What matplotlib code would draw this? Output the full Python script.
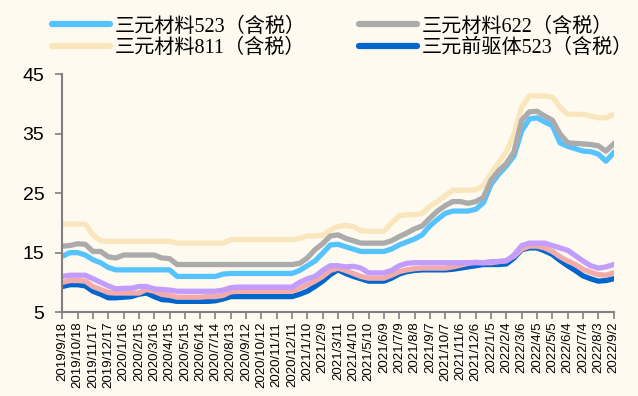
import matplotlib
matplotlib.use('Agg')
import matplotlib.pyplot as plt
import numpy as np
import pandas as pd

plt.rcParams['font.family'] = ['Liberation Serif', 'Noto Sans CJK SC']

# sampled every 15 days starting 2019/9/18
start = '2019-09-18'
n_points = 73

tick_labels = ['2019/9/18', '2019/10/18', '2019/11/17', '2019/12/17', '2020/1/16', '2020/2/15',
               '2020/3/16', '2020/4/15', '2020/5/15', '2020/6/14', '2020/7/14', '2020/8/13',
               '2020/9/12', '2020/10/12', '2020/11/11', '2020/12/11', '2021/1/10', '2021/2/9',
               '2021/3/11', '2021/4/10', '2021/5/10', '2021/6/9', '2021/7/9', '2021/8/8',
               '2021/9/7', '2021/10/7', '2021/11/6', '2021/12/6', '2022/1/5', '2022/2/4',
               '2022/3/6', '2022/4/5', '2022/5/5', '2022/6/4', '2022/7/4', '2022/8/3', '2022/9/2']

ncm523 = [14.4, 15.0, 15.0, 14.6, 13.8, 13.3, 12.5, 12.1, 12.1, 12.1, 12.1, 12.1, 12.1, 12.1, 12.1,
          11.0, 11.0, 11.0, 11.0, 11.0, 11.0, 11.4, 11.5, 11.5, 11.5, 11.5, 11.5, 11.5, 11.5, 11.5,
          11.5, 12.0, 12.8, 13.6, 14.9, 16.3, 16.4, 16.0, 15.6, 15.2, 15.2, 15.2, 15.2, 15.6, 16.3,
          16.8, 17.3, 18.0, 19.5, 20.6, 21.6, 22.0, 22.0, 22.0, 22.3, 23.4, 26.5, 28.2, 29.6, 31.3,
          35.5, 37.5, 37.7, 37.0, 36.4, 33.5, 32.9, 32.5, 32.1, 32.0, 31.6, 30.4, 31.8]
ncm622 = [16.1, 16.2, 16.5, 16.4, 15.2, 15.2, 14.3, 14.1, 14.6, 14.6, 14.6, 14.6, 14.6, 14.1, 14.0,
          13.0, 13.0, 13.0, 13.0, 13.0, 13.0, 13.0, 13.0, 13.0, 13.0, 13.0, 13.0, 13.0, 13.0, 13.0,
          13.0, 13.2, 14.1, 15.5, 16.5, 17.8, 18.0, 17.4, 17.0, 16.6, 16.6, 16.6, 16.6, 17.0, 17.7,
          18.3, 19.0, 19.5, 20.8, 22.0, 22.9, 23.6, 23.6, 23.3, 23.6, 24.3, 27.2, 28.8, 30.0, 32.0,
          37.3, 38.7, 38.8, 38.0, 37.3, 35.0, 33.5, 33.4, 33.3, 33.2, 33.0, 32.1, 33.3]
ncm811 = [19.8, 19.8, 19.8, 19.8, 18.0, 17.0, 16.9, 16.9, 16.9, 16.9, 16.9, 16.9, 16.9, 16.9, 16.9,
          16.6, 16.6, 16.6, 16.6, 16.6, 16.6, 16.6, 17.2, 17.2, 17.2, 17.2, 17.2, 17.2, 17.2, 17.2,
          17.2, 17.4, 17.8, 17.8, 17.9, 18.8, 19.4, 19.6, 19.4, 18.7, 18.6, 18.6, 18.6, 20.0, 21.2,
          21.4, 21.4, 21.6, 22.8, 23.6, 24.6, 25.5, 25.5, 25.5, 25.6, 26.3, 28.3, 30.2, 32.0, 35.0,
          39.5, 41.4, 41.4, 41.4, 41.2, 39.5, 38.3, 38.3, 38.3, 38.0, 37.7, 37.7, 38.3]
pre523 = [9.3, 9.6, 9.6, 9.4, 8.5, 8.0, 7.4, 7.4, 7.5, 7.6, 8.0, 8.2, 7.6, 7.1, 7.0,
          6.8, 6.8, 6.8, 6.8, 6.8, 6.9, 7.2, 7.6, 7.6, 7.6, 7.6, 7.6, 7.6, 7.6, 7.6,
          7.6, 8.0, 8.5, 9.3, 10.2, 11.3, 12.1, 11.5, 11.0, 10.6, 10.2, 10.2, 10.2, 10.7, 11.4,
          11.8, 12.0, 12.1, 12.1, 12.1, 12.1, 12.2, 12.4, 12.6, 12.8, 13.0, 13.0, 13.0, 13.1, 14.1,
          15.5, 15.8, 15.8, 15.3, 14.7, 13.7, 12.8, 12.0, 11.1, 10.6, 10.2, 10.3, 10.6]
pre622 = [10.0, 10.3, 10.3, 10.2, 9.3, 8.8, 8.3, 8.2, 8.2, 8.2, 8.2, 8.8, 8.5, 8.0, 7.8,
          7.5, 7.5, 7.5, 7.5, 7.6, 7.6, 7.8, 8.4, 8.5, 8.5, 8.5, 8.5, 8.5, 8.5, 8.5,
          8.5, 9.0, 9.6, 10.2, 11.0, 12.0, 12.4, 12.0, 11.5, 11.0, 10.7, 10.7, 10.7, 11.2, 11.8,
          12.1, 12.3, 12.4, 12.4, 12.4, 12.4, 12.6, 12.9, 13.2, 13.4, 13.3, 13.3, 13.5, 13.7, 14.4,
          15.6, 16.1, 16.1, 15.8, 15.2, 14.3, 13.6, 13.0, 12.2, 11.7, 11.3, 11.2, 11.6]
pre811 = [11.0, 11.2, 11.2, 11.2, 10.6, 10.0, 9.4, 8.9, 9.0, 9.0, 9.3, 9.3, 8.9, 8.8, 8.7,
          8.5, 8.5, 8.5, 8.5, 8.5, 8.5, 8.7, 9.1, 9.2, 9.2, 9.2, 9.2, 9.2, 9.2, 9.2,
          9.2, 10.0, 10.6, 11.0, 12.0, 12.8, 12.8, 12.6, 12.7, 12.4, 11.6, 11.6, 11.6, 12.0, 12.8,
          13.2, 13.3, 13.3, 13.3, 13.3, 13.3, 13.3, 13.3, 13.3, 13.3, 13.3, 13.5, 13.5, 13.6, 14.6,
          16.2, 16.6, 16.6, 16.6, 16.2, 15.8, 15.4, 14.5, 13.6, 12.8, 12.4, 12.6, 13.0]

dates = pd.date_range(start, periods=n_points, freq='15D')
tick_dates = pd.to_datetime(tick_labels, format='%Y/%m/%d')

bg = '#FFFAF0'
fig = plt.figure(figsize=(6.38, 3.96), dpi=100, facecolor=bg)
ax = fig.add_axes([0.0977, 0.212, 0.864, 0.600], facecolor=bg)

lw = 3.8
l811, = ax.plot(dates, ncm811, color='#FAE6BC', lw=lw, label='三元材料811（含税）')
l523, = ax.plot(dates, ncm523, color='#55C3FF', lw=lw, label='三元材料523（含税）')
l622, = ax.plot(dates, ncm622, color='#ABABAB', lw=lw, label='三元材料622（含税）')
lpre, = ax.plot(dates, pre523, color='#0066CC', lw=lw, label='三元前驱体523（含税）')
ax.plot(dates, pre622, color='#F2AAAA', lw=lw)
ax.plot(dates, pre811, color='#C29CFF', lw=lw)

ax.set_xlim(dates[0], dates[-1])
ax.set_ylim(5, 45)
ax.set_yticks([5, 15, 25, 35, 45])
ax.set_xticks(tick_dates)
ax.set_xticklabels(tick_labels, rotation=90, fontsize=9.5, family='Liberation Sans')
for t in ax.get_yticklabels():
    t.set_family('Liberation Sans')
    t.set_fontsize(14)

for s in ['top', 'right']:
    ax.spines[s].set_visible(False)
for s in ['left', 'bottom']:
    ax.spines[s].set_color('#808080')
    ax.spines[s].set_linewidth(1.5)
ax.tick_params(axis='both', color='#808080', width=1.2, length=5, pad=2)
ax.tick_params(axis='y', pad=8)

leg = fig.legend(handles=[l523, l811, l622, lpre], ncol=2, loc='upper left',
                 bbox_to_anchor=(0.062, 0.987), frameon=False, fontsize=14.5,
                 handlelength=2.9, handletextpad=0.25, columnspacing=2.6,
                 labelspacing=0.1, borderaxespad=0.2)
for h in leg.legend_handles:
    h.set_linewidth(4.5)
    h.set_solid_capstyle('round')

fig.savefig('out.png', dpi=100, facecolor=bg)
